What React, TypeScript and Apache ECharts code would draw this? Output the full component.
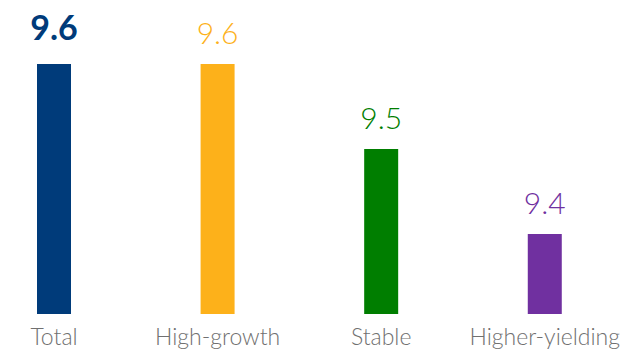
import React, { useEffect, useRef } from "react";
import * as echarts from "echarts";

const categories = ["Total", "High-growth", "Stable", "Higher-yielding"];
const values = [9.6, 9.6, 9.5, 9.4];
const colors = ["#003B7A", "#FDB11A", "#007E00", "#7030A0"];

export default function App() {
  const ref = useRef<HTMLDivElement>(null);
  useEffect(() => {
    const chart = echarts.init(ref.current!, null, { renderer: "svg" });
    chart.setOption({
      animation: false,
      grid: { left: 54, right: 75, top: 64, bottom: 35, containLabel: false },
      xAxis: {
        type: "category",
        data: categories,
        boundaryGap: false,
        axisLine: { show: false },
        axisTick: { show: false },
        axisLabel: {
          interval: 0,
          color: "#707070",
          fontFamily: "Lato",
          fontWeight: 300,
          fontSize: 23,
          margin: 10,
        },
      },
      yAxis: {
        type: "value",
        min: 9.306,
        max: 9.6,
        show: false,
        splitLine: { show: false },
      },
      series: [
        {
          type: "bar",
          barWidth: 34,
          data: values.map((v, i) => ({
            value: v,
            itemStyle: { color: colors[i] },
            label: {
              show: true,
              position: "top",
              distance: i === 0 ? 21 : 17,
              color: colors[i],
              fontFamily: "Lato",
              fontSize: i === 0 ? 34 : 30,
              fontWeight: i === 0 ? "bold" : 300,
              formatter: (p: any) => p.value.toFixed(1),
            },
          })),
        },
      ],
    });
    return () => chart.dispose();
  }, []);
  return <div ref={ref} style={{ width: 623, height: 349, position: "absolute", left: 0, top: 0 }} />;
}
